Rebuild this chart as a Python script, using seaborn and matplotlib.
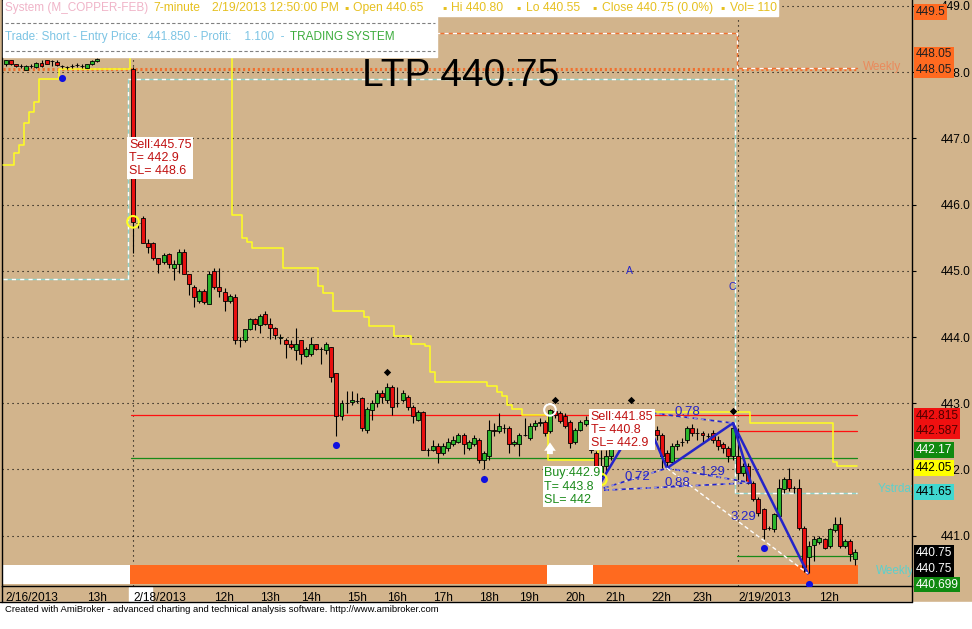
import numpy as np
import pandas as pd
import matplotlib
matplotlib.use("Agg")
import matplotlib.pyplot as plt
import matplotlib.patches as mpatches
import matplotlib.lines as mlines
import seaborn as sns

# ---------------- data ----------------
nan = np.nan
opens = [448.12, 448.18, 448.12, 448.09, 448.04, 448.10, 448.08, 448.14, 448.18, 448.17,
         448.16, 448.09, 448.08, 448.10, 448.11, 448.10, 448.07, 448.12, 448.17,
         nan, nan, nan, nan, nan, nan,
         448.05, 445.72, 445.80, 445.42, 445.42, 445.20, 445.13, 445.25, 445.04, 445.10,
         445.28, 444.95, 444.75, 444.55, 444.70, 444.50, 445.00, 444.75, 444.68, 444.55,
         444.60, 443.95, 443.95, 444.12, 444.27, 444.18, 444.35, 444.20, 444.13, 443.98,
         443.95, 443.90, 443.80, 443.95, 443.72, 443.75, 443.90, 443.82, 443.80, 443.85,
         443.45, 442.80, 443.00, 443.02, 443.03, 443.08, 442.60, 442.90, 443.00, 443.15,
         443.05, 443.25, 443.00, 443.05, 443.10, 442.95, 442.75, 442.87, 442.30, 442.30,
         442.35, 442.25, 442.32, 442.38, 442.42, 442.52, 442.32, 442.38, 442.45, 442.15,
         442.20, 442.60, 442.58, 442.62, 442.62, 442.38, 442.38, 442.52, 442.48, 442.65,
         442.70, 442.72, 442.58, 442.88, 442.85, 442.80, 442.72, 442.42, 442.60, 442.68,
         442.70, 442.25, 441.90, 442.05, 442.20, 442.45, 442.58, 442.68, 442.75, 442.80,
         442.78, 442.80, 442.75, 442.60, 442.52, 442.25, 442.12, 442.35, 442.42, 442.45,
         442.62, 442.55, 442.55, 442.50, 442.55, 442.45, 442.38, 442.32, 442.20, 442.20,
         441.95, 442.05, 441.80, 441.55, 441.40, 441.12, 441.10, 441.30, 441.70, 441.85,
         441.72, 441.72, 441.12, 440.68, 440.86, 440.90, 440.95, 440.85, 441.08, 441.18,
         440.85, 440.92, 440.65]
highs = [448.19, 448.19, 448.13, 448.12, 448.11, 448.12, 448.15, 448.18, 448.19, 448.18,
         448.18, 448.11, 448.10, 448.13, 448.14, 448.13, 448.13, 448.18, 448.21,
         nan, nan, nan, nan, nan, nan,
         448.08, 445.78, 445.83, 445.48, 445.44, 445.20, 445.27, 445.27, 445.16, 445.33,
         445.33, 444.95, 444.78, 444.72, 444.73, 445.00, 445.05, 445.04, 444.74, 444.65,
         444.65, 444.00, 444.12, 444.28, 444.28, 444.35, 444.40, 444.28, 444.15, 444.05,
         443.98, 443.95, 444.13, 443.95, 443.85, 444.00, 443.90, 443.85, 443.92, 443.85,
         443.45, 443.05, 443.18, 443.18, 443.15, 443.10, 442.95, 443.05, 443.20, 443.20,
         443.30, 443.28, 443.25, 443.20, 443.12, 442.97, 442.90, 442.88, 442.33, 442.45,
         442.40, 442.40, 442.48, 442.50, 442.55, 442.55, 442.45, 442.52, 442.48, 442.28,
         442.75, 442.70, 442.85, 442.68, 442.65, 442.45, 442.55, 442.78, 442.70, 442.75,
         442.78, 442.75, 442.92, 442.95, 442.88, 442.85, 442.75, 442.62, 442.75, 442.80,
         442.72, 442.28, 442.30, 442.30, 442.60, 442.62, 442.72, 442.80, 442.85, 442.87,
         442.87, 442.87, 442.80, 442.65, 442.55, 442.30, 442.40, 442.45, 442.48, 442.65,
         442.68, 442.62, 442.58, 442.55, 442.60, 442.50, 442.42, 442.35, 442.70, 442.62,
         442.10, 442.10, 441.82, 441.58, 441.42, 441.15, 441.35, 441.85, 441.88, 442.02,
         441.75, 441.85, 441.15, 440.92, 441.00, 441.00, 440.97, 441.12, 441.28, 441.28,
         440.95, 440.95, 440.80]
lows = [448.10, 448.11, 448.08, 448.07, 448.03, 448.07, 448.07, 448.08, 448.12, 448.10,
        448.10, 448.06, 448.05, 448.07, 448.08, 448.07, 448.06, 448.11, 448.16,
        nan, nan, nan, nan, nan, nan,
        445.27, 445.65, 445.42, 445.27, 445.16, 444.97, 445.10, 445.05, 444.86, 444.97,
        444.95, 444.63, 444.45, 444.52, 444.50, 444.50, 444.72, 444.60, 444.40, 444.52,
        443.90, 443.85, 443.92, 444.10, 444.10, 444.06, 444.18, 443.97, 443.97, 443.90,
        443.68, 443.82, 443.65, 443.60, 443.70, 443.72, 443.80, 443.60, 443.75, 443.32,
        442.50, 442.75, 442.85, 442.98, 443.00, 442.58, 442.55, 442.75, 442.95, 443.00,
        443.00, 442.83, 442.95, 443.02, 442.90, 442.70, 442.73, 442.30, 442.20, 442.28,
        442.10, 442.22, 442.28, 442.35, 442.40, 442.23, 442.30, 442.35, 442.10, 442.00,
        442.15, 442.50, 442.55, 442.55, 442.25, 442.35, 442.20, 442.50, 442.45, 442.60,
        442.65, 442.50, 442.55, 442.78, 442.70, 442.62, 442.33, 442.38, 442.58, 442.65,
        442.25, 441.68, 441.72, 441.98, 442.15, 442.40, 442.52, 442.62, 442.68, 442.72,
        442.70, 442.65, 442.55, 442.45, 442.02, 442.02, 442.10, 442.30, 442.35, 442.40,
        442.50, 442.45, 442.40, 442.45, 442.40, 442.30, 442.25, 442.12, 442.15, 441.82,
        441.90, 441.78, 441.52, 441.30, 440.95, 441.08, 441.05, 441.28, 441.65, 441.68,
        441.65, 441.08, 440.45, 440.43, 440.62, 440.88, 440.80, 440.82, 441.05, 440.82,
        440.82, 440.62, 440.55]
closes = [448.18, 448.12, 448.10, 448.09, 448.10, 448.09, 448.14, 448.09, 448.13, 448.17,
          448.11, 448.09, 448.08, 448.10, 448.11, 448.10, 448.12, 448.17, 448.20,
          nan, nan, nan, nan, nan, nan,
          445.74, 445.72, 445.42, 445.36, 445.20, 445.10, 445.24, 445.10, 445.10, 445.28,
          444.95, 444.80, 444.60, 444.70, 444.53, 444.95, 444.75, 444.70, 444.55, 444.62,
          443.95, 443.95, 444.12, 444.27, 444.20, 444.32, 444.20, 444.13, 444.03, 444.00,
          443.90, 443.85, 443.90, 443.75, 443.82, 443.90, 443.82, 443.82, 443.90, 443.40,
          442.80, 443.00, 443.00, 443.05, 443.03, 442.62, 442.92, 443.00, 443.15, 443.10,
          443.25, 442.95, 443.00, 443.15, 442.95, 442.80, 442.87, 442.30, 442.30, 442.35,
          442.25, 442.35, 442.42, 442.45, 442.52, 442.38, 442.42, 442.48, 442.15, 442.25,
          442.60, 442.58, 442.65, 442.62, 442.38, 442.42, 442.52, 442.52, 442.65, 442.70,
          442.72, 442.55, 442.90, 442.82, 442.73, 442.65, 442.40, 442.60, 442.72, 442.75,
          442.30, 441.85, 442.05, 442.20, 442.45, 442.58, 442.68, 442.75, 442.80, 442.78,
          442.80, 442.68, 442.60, 442.52, 442.20, 442.12, 442.35, 442.38, 442.42, 442.62,
          442.55, 442.55, 442.52, 442.50, 442.45, 442.35, 442.32, 442.20, 442.62, 441.95,
          442.05, 441.80, 441.55, 441.35, 441.10, 441.12, 441.32, 441.72, 441.85, 441.72,
          441.72, 441.12, 440.52, 440.85, 440.95, 440.97, 440.82, 441.10, 441.18, 440.85,
          440.92, 440.72, 440.75]

# x-axis labels (bar index, text)
tick_bars = [0, 16, 25, 41, 50, 58, 67, 75, 84, 93, 101, 110, 118, 127, 135, 144, 160]
tick_text = ["2/16/2013", "13h", "2/18/2013", "12h", "13h", "14h", "15h", "16h", "17h",
             "18h", "19h", "20h", "21h", "22h", "23h", "2/19/2013", "12h"]
day_breaks = [25, 144]

# trailing stop (yellow step line)
stop_x = [-0.5, 1.5, 2.5, 3.5, 4.5, 5.5, 6.5, 10.5, 24.5, 44.5, 46.4, 47.4, 48.4, 54.5,
          61.4, 62.4, 64.3, 70.4, 71.4, 76.3, 79.7, 82.4, 83.4, 84.4, 94.6, 96.6, 97.6,
          98.5, 99.5, 101.5, 106.6, 116.4, 146.3, 162.6, 163.4, 167.4]
stop_y = [446.60, 446.78, 446.90, 447.23, 447.40, 447.55, 447.90, 448.05, 448.28, 445.85,
          445.50, 445.44, 445.35, 445.05, 444.77, 444.66, 444.40, 444.31, 444.16, 444.01,
          443.90, 443.86, 443.47, 443.32, 443.26, 443.17, 443.11, 442.98, 442.92, 442.83,
          442.14, 442.87, 442.70, 442.11, 442.05, 442.05]

# yesterday level (cyan dashed) and weekly levels (orange)
ystr_x = [-0.5, 24.0, 143.3, 167.4]
ystr_y = [444.87, 447.90, 441.65, 441.65]
week_level = 448.05
week2_x = [76.3, 143.7, 167.4]
week2_y = [448.59, 448.06, 448.06]

# targets / stops of current trade
red_levels = [442.815, 442.587]
red_start = [24.6, 143.8]
green_levels = [442.17, 440.699]
green_start = [24.6, 143.8]
level_end = 167.4

# fractal dots
hi_dot_x = [75, 108, 123, 143]
hi_dot_y = [443.47, 443.05, 443.05, 442.88]
lo_dot_x = [11, 65, 94, 116, 149, 158]
lo_dot_y = [447.91, 442.37, 441.86, 441.51, 440.81, 440.27]

# harmonic pattern points X, A, B, C, D and alternate D
pat_x = [116.0, 125.3, 130.0, 143.0, 157.7]
pat_y = [441.68, 442.87, 442.02, 442.70, 440.43]
alt_d = (146.5, 441.80)
ratio_text = ["0.78", "0.72", "0.88", "1.29", "3.29"]
ratio_x = [134.0, 124.1, 132.0, 139.1, 145.0]
ratio_y = [442.87, 441.89, 441.80, 441.96, 441.28]

# position ribbon
ribbon_edges = [-0.5, 24.5, 106.5, 115.5, 167.5]
ribbon_state = ["flat", "short", "flat", "short"]

# right-axis value boxes: value, bg, fg, shown at
box_vals = ["449.5", "448.05", "448.05", "442.815", "442.587", "442.17", "442.05",
            "441.65", "440.75", "440.75", "440.699"]
box_bg = ["#ff6a20", "#ff6a20", "#ff6a20", "#f01010", "#f01010", "#108a10", "#ffff00",
          "#40d8d0", "black", "black", "#108a10"]
box_fg = ["#202020", "#202020", "#202020", "#500000", "#500000", "white", "black",
          "black", "white", "white", "white"]
box_at = [448.91, 448.27, 448.03, 442.81, 442.58, 442.29, 442.02, 441.66, 440.74,
          440.50, 440.26]

# header title pieces
head_text = ["7-minute", "2/19/2013 12:50:00 PM", "\u25aa", "Open 440.65", "\u25aa",
             "Hi 440.80", "\u25aa", "Lo 440.55", "\u25aa", "Close 440.75 (0.0%)",
             "\u25aa", "Vol= 110"]
head_px = [153, 212, 344, 353, 442, 451, 516, 526, 592, 602, 720, 730]

# ---------------- drawing ----------------
tan = "#d2b48c"
W, H = 972, 629

sns.set_theme(style="white", rc={"axes.facecolor": tan, "figure.facecolor": tan})
plt.rcParams["font.family"] = ["Liberation Sans", "DejaVu Sans"]


def fx(px):
    return px / W


def fy(py):
    return 1 - py / H


fig = plt.figure(figsize=(W / 100, H / 100), dpi=100)
ax = fig.add_axes([fx(2), fy(586), fx(912) - fx(2), fy(0) - fy(586)])
ax.set_xlim(-0.77, 178.2)
ax.set_ylim(440.24, 449.09)

df = pd.DataFrame({"o": opens, "h": highs, "l": lows, "c": closes})
df["x"] = np.arange(len(df))
df = df.dropna()

dots = (0, (1, 3.5))
ax.set_yticks(np.arange(441, 450))
ax.grid(axis="y", color="black", linestyle=dots, linewidth=0.8)
ax.grid(axis="x", visible=False)
for d in day_breaks:
    ax.axvline(d, color="black", linestyle=dots, linewidth=0.8, zorder=1)

# ribbon
rib_col = {"flat": "white", "short": "#ff6a1f"}
for a, b, s in zip(ribbon_edges[:-1], ribbon_edges[1:], ribbon_state):
    ax.axvspan(a, b, ymin=0.0034, ymax=0.036, color=rib_col[s], lw=0, zorder=1)

# weekly and yesterday lines
ax.plot([-0.5, level_end], [week_level, week_level], color="#f07030", lw=2.2,
        linestyle=(0, (0.7, 0.9)), zorder=2)
ax.plot(week2_x, week2_y, drawstyle="steps-post", color="#f07030", lw=1, zorder=2)
ax.plot(week2_x, week2_y, drawstyle="steps-post", color="white", lw=1,
        linestyle=(0, (3, 3)), zorder=2)
ax.plot(ystr_x, ystr_y, drawstyle="steps-post", color="#8fd4cc", lw=1, zorder=2)
ax.plot(ystr_x, ystr_y, drawstyle="steps-post", color="white", lw=1,
        linestyle=(0, (3, 3)), zorder=2)

for lv, st in zip(red_levels, red_start):
    ax.plot([st, level_end], [lv, lv], color="#ff1010", lw=0.9, zorder=2)
for lv, st in zip(green_levels, green_start):
    ax.plot([st, level_end], [lv, lv], color="#188a18", lw=0.9, zorder=2)

sns.lineplot(x=stop_x, y=stop_y, drawstyle="steps-post", color="#ffff20", lw=1.1,
             estimator=None, sort=False, ax=ax, zorder=3)

# candles
up = df["c"] >= df["o"]
ax.vlines(df["x"], df["l"], df["h"], color="black", lw=0.8, zorder=4)
ax.bar(df["x"], (df["c"] - df["o"]).abs(), bottom=df[["o", "c"]].min(axis=1),
       width=0.78, color=np.where(up, "#2cb52c", "#e81010"), edgecolor="black",
       linewidth=0.6, zorder=5)

# fractal dots
sns.scatterplot(x=hi_dot_x, y=hi_dot_y, color="black", marker="D", s=14,
                linewidth=0, ax=ax, zorder=6)
sns.scatterplot(x=lo_dot_x, y=lo_dot_y, color="#1010e0", marker="o", s=26,
                linewidth=0, ax=ax, zorder=6)

# harmonic pattern
X, A, B, C, D = list(zip(pat_x, pat_y))
blue = "#2424c8"
for p, q in [(X, A), (A, B), (B, C), (C, D), (C, alt_d)]:
    ax.plot([p[0], q[0]], [p[1], q[1]], color=blue, lw=1.8, zorder=7)
for p, q in [(X, B), (A, C), (X, alt_d), (B, alt_d)]:
    ax.plot([p[0], q[0]], [p[1], q[1]], color=blue, lw=1.2, linestyle=(0, (3, 2)), zorder=7)
    ax.plot([p[0], q[0]], [p[1], q[1]], color="white", lw=1.0, linestyle=(3, (2, 3)),
            alpha=0.5, zorder=7)
ax.plot([B[0], D[0]], [B[1], D[1]], color="white", lw=1, linestyle=(0, (3, 2)), zorder=7)
for t, x, y in zip(ratio_text, ratio_x, ratio_y):
    ax.text(x, y, t, color=blue, fontsize=9.5, ha="center", va="center", zorder=8)
ax.text(122.7, 445.0, "A", color=blue, fontsize=7.5, ha="center", va="center")
ax.text(142.8, 444.76, "C", color=blue, fontsize=7.5, ha="center", va="center")

# trade markers
ax.scatter([25, 117], [445.74, 441.85], s=70, facecolors="none", edgecolors="#ffff20",
           linewidths=1.5, zorder=8)
ax.scatter([107], [442.9], s=70, facecolors="none", edgecolors="white",
           linewidths=1.5, zorder=8)
ax.annotate("", xy=(107, 442.45), xytext=(107, 442.19),
            arrowprops=dict(arrowstyle="simple,head_width=0.7,head_length=0.5,tail_width=0.35",
                            color="white", lw=0), zorder=8)

lab_kw = dict(fontsize=9, va="top", ha="left", linespacing=1.12, zorder=9,
              bbox=dict(facecolor="white", edgecolor="none", pad=1.2))
ax.text(24.2, 446.99, "Sell:445.75\nT= 442.9\nSL= 448.6", color="#c01010", **lab_kw)
ax.text(115.0, 442.89, "Sell:441.85\nT= 440.8\nSL= 442.9", color="#c01010", **lab_kw)
ax.text(105.9, 442.03, "Buy:442.9\nT= 443.8\nSL= 442", color="#1a8a1a", **lab_kw)

# line names at right edge
ax.text(168.5, 448.08, "Weekly", color="#f08050", fontsize=8.5, va="center", alpha=0.8)
ax.text(171.4, 441.7, "Ystrday", color="#5cd0cc", fontsize=8.5, va="center", clip_on=True)
ax.text(171.2, 440.47, "Weekly", color="#5cd0cc", fontsize=8.5, va="center", clip_on=True)

# axes styling
for s in ["left", "bottom", "right"]:
    ax.spines[s].set_color("black")
    ax.spines[s].set_linewidth(1)
ax.spines["top"].set_visible(False)
ax.yaxis.tick_right()
ax.set_yticklabels([f"{v:.1f}" for v in np.arange(441, 450)])
ax.tick_params(axis="y", direction="out", length=3, width=0.8, colors="black",
               labelsize=8.6, pad=38.8)
for lb in ax.get_yticklabels():
    lb.set_ha("right")
ax.set_xticks(tick_bars)
ax.set_xticklabels(tick_text)
ax.tick_params(axis="x", direction="out", length=4, width=0.8, colors="black",
               labelsize=8.6, pad=0.5)
for lb in ax.get_xticklabels():
    lb.set_ha("left")
ax.set_xlabel("")
ax.set_ylabel("")

for v, bg, fg, y in zip(box_vals, box_bg, box_fg, box_at):
    ax.text(1.004, y, v, transform=ax.get_yaxis_transform(), color=fg, fontsize=8.6,
            ha="left", va="center", clip_on=False, zorder=10,
            bbox=dict(facecolor=bg, edgecolor="none", pad=1.3))

# header boxes
fig.patches.append(mpatches.Rectangle((fx(3), fy(16)), fx(778) - fx(3), fy(0) - fy(16),
                                      transform=fig.transFigure, color="white", zorder=1))
fig.patches.append(mpatches.Rectangle((fx(3), fy(57)), fx(437) - fx(3), fy(16) - fy(57),
                                      transform=fig.transFigure, color="white", zorder=1))
for yy in [23, 51]:
    fig.add_artist(mlines.Line2D([fx(5), fx(435)], [fy(yy), fy(yy)], color="#808080",
                                 lw=0.8, linestyle=(0, (3, 2)), zorder=2))
fig.text(fx(5), fy(8), "System (M_COPPER-FEB)", color="#f0b4c8", fontsize=8.5, va="center")
for t, p in zip(head_text, head_px):
    fig.text(fx(p), fy(8), t, color="#e6c020", fontsize=8.7, va="center")
fig.text(fx(5), fy(37), "Trade: Short - Entry Price:  441.850 - Profit:    1.100  - ",
         color="#7cc4e4", fontsize=8.5, va="center")
fig.text(fx(290), fy(37), "TRADING SYSTEM", color="#3cac3c", fontsize=8.5, va="center")
fig.text(fx(461), fy(76), "LTP 440.75", color="black", fontsize=28, ha="center", va="center")

# footer
fig.patches.append(mpatches.Rectangle((0, 0), 1, fy(602), transform=fig.transFigure,
                                      color="white", zorder=1))
fig.patches.append(mpatches.Rectangle((fx(129), fy(602)), fx(152) - fx(129), fy(587) - fy(602),
                                      transform=fig.transFigure, color="white", zorder=-1))
fig.add_artist(mlines.Line2D([0, fx(912)], [fy(602), fy(602)], color="black", lw=1))
fig.add_artist(mlines.Line2D([fx(912), fx(912)], [fy(586), fy(602)], color="black", lw=1))
fig.add_artist(mlines.Line2D([fx(1.5), fx(1.5)], [fy(586), fy(602)], color="black", lw=1))
fig.text(fx(5), fy(609),
         "Created with AmiBroker - advanced charting and technical analysis software. "
         "http://www.amibroker.com", color="black", fontsize=6.8, va="center")

fig.savefig("out.png", dpi=100, facecolor=tan)
